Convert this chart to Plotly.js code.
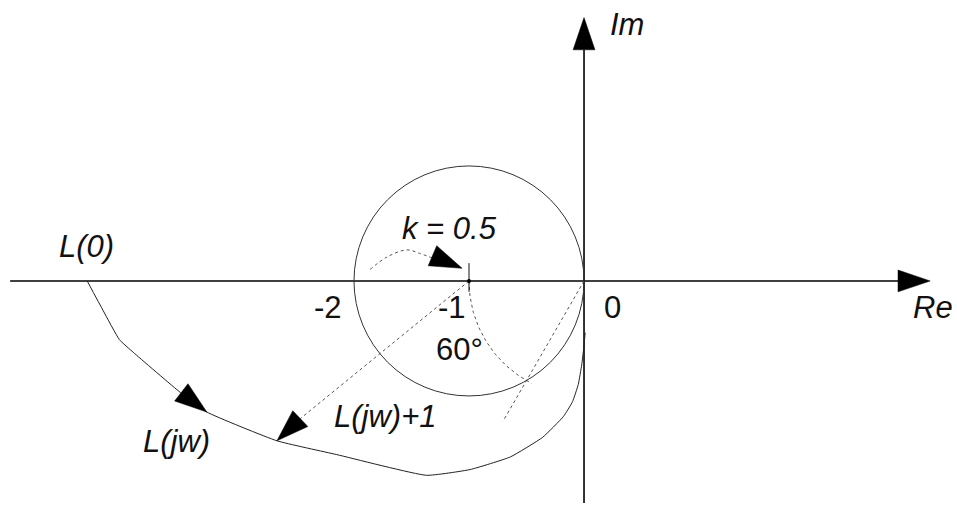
<!DOCTYPE html>
<html>
<head>
<meta charset="utf-8">
<script src="https://cdn.plot.ly/plotly-3.0.1.min.js"></script>
<style>
  html, body { margin: 0; padding: 0; background: #fff; }
  #chart { width: 957px; height: 506px; }
</style>
</head>
<body>
<div id="chart"></div>
<script>
// L(jw) as sketched (Re, Im)
const curveRe = [-4.32, -4.18, -4.04, -3.92, -3.51, -3.28, -2.67, -2.15, -1.37, -0.99, -0.64, -0.36, -0.18, -0.10, -0.05, -0.02, 0.00, 0.01];
const curveIm = [0.00, -0.26, -0.51, -0.62, -0.97, -1.14, -1.39, -1.51, -1.69, -1.64, -1.53, -1.36, -1.18, -1.05, -0.90, -0.73, -0.56, -0.45];

// dashed hook pointing at the critical point (k = 0.5)
const kArcRe = [-1.86, -1.71, -1.54, -1.43, -1.32];
const kArcIm = [0.10, 0.21, 0.27, 0.24, 0.20];

// axes extents
const reAxis = [-4.99, 3.01];
const imAxis = [-1.93, 2.29];

// critical point, circle |L+1| = 1, 60 degree phase construction
const critical = [-1, 0];
const kRadius = 1;
const phaseArcDeg = [180, 243];
const phaseRayDeg = 240;
const phaseRayLen = 1.41;

// arrow heads: tip and a point behind it (gives the direction)
const arrowTipRe = [3.01, 0.00, -3.28, -2.67, -1.06];
const arrowTipIm = [0.00, 2.29, -1.14, -1.39, 0.11];
const arrowFromRe = [2.50, 0.00, -3.50, -2.47, -1.32];
const arrowFromIm = [0.00, 1.80, -0.97, -1.20, 0.22];

// labels
const labelText = ['Im', 'Re', '0', '-2', '-1', '60°', 'k = 0.5', 'L(jw)+1', 'L(0)', 'L(jw)'];
const labelRe = [0.37, 3.03, 0.25, -2.23, -1.15, -1.08, -1.17, -1.73, -4.33, -3.54];
const labelIm = [2.23, -0.23, -0.23, -0.23, -0.23, -0.60, 0.46, -1.18, 0.30, -1.40];
const labelItalic = [true, true, false, false, false, false, true, true, true, true];

const HEAD_LEN = 0.28;  // ~32 px
const HEAD_HALF = 0.095;

function arrowHead(i) {
  const tx = arrowTipRe[i], ty = arrowTipIm[i];
  let dx = tx - arrowFromRe[i], dy = ty - arrowFromIm[i];
  const n = Math.hypot(dx, dy);
  dx /= n; dy /= n;
  const bx = tx - dx * HEAD_LEN, by = ty - dy * HEAD_LEN;
  return {
    base: [bx, by],
    x: [bx - dy * HEAD_HALF, tx, bx + dy * HEAD_HALF, bx - dy * HEAD_HALF],
    y: [by + dx * HEAD_HALF, ty, by - dx * HEAD_HALF, by + dx * HEAD_HALF]
  };
}

const heads = arrowTipRe.map((_, i) => arrowHead(i));

// unit circle arc around the origin for the 60 degree mark
const arcX = [], arcY = [];
for (let a = phaseArcDeg[0]; a <= phaseArcDeg[1]; a += 1) {
  arcX.push(Math.cos(a * Math.PI / 180));
  arcY.push(Math.sin(a * Math.PI / 180));
}
const rayEnd = [phaseRayLen * Math.cos(phaseRayDeg * Math.PI / 180), phaseRayLen * Math.sin(phaseRayDeg * Math.PI / 180)];

const solid = c => ({ color: c, width: 1 });
const dashed = { color: '#555', width: 1, dash: '3px,3px' };

const traces = [
  // axes (stop at arrow bases)
  { x: [reAxis[0], heads[0].base[0]], y: [0, 0], mode: 'lines', line: { color: '#000', width: 1.6 } },
  { x: [0, 0], y: [imAxis[0], heads[1].base[1]], mode: 'lines', line: { color: '#000', width: 1.6 } },
  // L(jw)
  { x: curveRe, y: curveIm, mode: 'lines', line: { color: '#222', width: 1, shape: 'spline', smoothing: 0.4 } },
  // dashed constructions
  { x: kArcRe, y: kArcIm, mode: 'lines', line: Object.assign({ shape: 'spline' }, dashed) },
  { x: arcX, y: arcY, mode: 'lines', line: dashed },
  { x: [0, rayEnd[0]], y: [0, rayEnd[1]], mode: 'lines', line: dashed },
  { x: [critical[0], heads[3].base[0]], y: [critical[1], heads[3].base[1]], mode: 'lines', line: dashed },
  // tick at -1
  { x: [critical[0], critical[0]], y: [0.155, -0.095], mode: 'lines', line: solid('#111') },
  { x: [critical[0]], y: [critical[1]], mode: 'markers', marker: { color: '#000', size: 4 } }
];

heads.forEach(h => traces.push({
  x: h.x, y: h.y, mode: 'lines', fill: 'toself', fillcolor: '#000',
  line: { color: '#000', width: 0.5 }
}));

traces.forEach(t => { t.type = 'scatter'; t.hoverinfo = 'skip'; });

const annotations = labelText.map((t, i) => ({
  x: labelRe[i], y: labelIm[i], xref: 'x', yref: 'y',
  text: t, showarrow: false, xanchor: 'center', yanchor: 'middle',
  font: { family: 'Liberation Sans, Arial, sans-serif', size: 31, color: '#111', style: labelItalic[i] ? 'italic' : 'normal' }
}));

const layout = {
  width: 957,
  height: 506,
  margin: { t: 0, r: 0, b: 0, l: 0 },
  paper_bgcolor: '#fff',
  plot_bgcolor: '#fff',
  showlegend: false,
  xaxis: { visible: false, range: [-5.078, 3.243] },
  yaxis: { visible: false, range: [-1.957, 2.443] },
  shapes: [{
    type: 'circle', xref: 'x', yref: 'y',
    x0: critical[0] - kRadius, x1: critical[0] + kRadius,
    y0: critical[1] - kRadius, y1: critical[1] + kRadius,
    line: { color: '#333', width: 1 }
  }],
  annotations: annotations
};

Plotly.newPlot('chart', traces, layout, { staticPlot: true, displayModeBar: false });
</script>
</body>
</html>
